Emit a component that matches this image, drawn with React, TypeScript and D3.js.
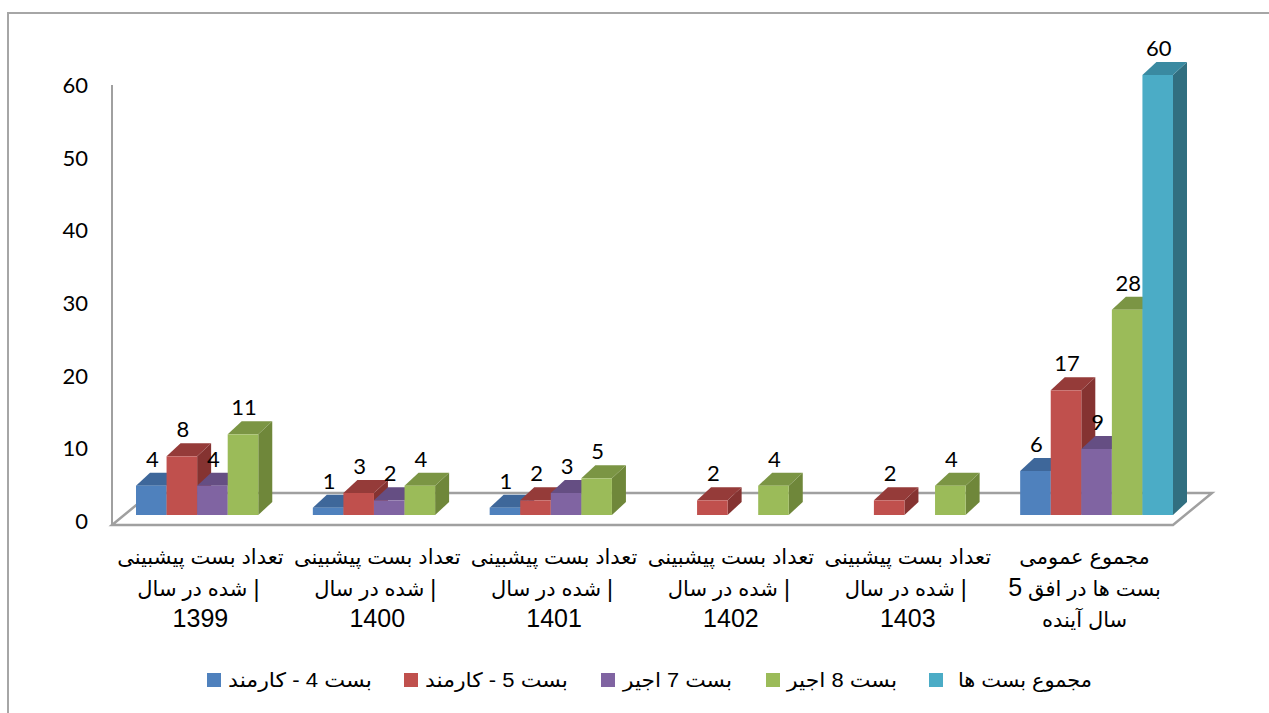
import React from "react"
import * as d3 from "d3"

// categories (one per group) and the label lines under each group
const categories = ["1399", "1400", "1401", "1402", "1403", "total"]
const categoryLines = [
  ["تعداد بست پیشبینی", "شده در سال |", "1399"],
  ["تعداد بست پیشبینی", "شده در سال |", "1400"],
  ["تعداد بست پیشبینی", "شده در سال |", "1401"],
  ["تعداد بست پیشبینی", "شده در سال |", "1402"],
  ["تعداد بست پیشبینی", "شده در سال |", "1403"],
  ["مجموع عمومی", "بست ها در افق 5", "سال آینده"],
]

const seriesNames = ["بست 4 - کارمند", "بست 5 - کارمند", "بست 7 اجیر", "بست 8 اجیر", "مجموع بست ها"]

const band4 = [4, 1, 1, null, null, 6]
const band5 = [8, 3, 2, 2, 2, 17]
const band7 = [4, 2, 3, null, null, 9]
const band8 = [11, 4, 5, 4, 4, 28]
const totalBands = [null, null, null, null, null, 60]

const yTicks = [0, 10, 20, 30, 40, 50, 60]

const seriesValues = [band4, band5, band7, band8, totalBands]

// front / top / side shades per series
const palette = [
  { front: "#4F81BD", top: "#3E679A", side: "#375D8B" },
  { front: "#C0504D", top: "#953B39", side: "#853331" },
  { front: "#8064A2", top: "#654E83", side: "#5B4676" },
  { front: "#9BBB59", top: "#7B9544", side: "#6F873A" },
  { front: "#4BACC6", top: "#3A8AA1", side: "#316F80" },
]

const W = 1269
const H = 713
const floorLeft = 112
const floorRight = 1173
const floorY = 525
const floorDx = 39
const floorDy = -32
const shiftX = 12 // bars sit a little behind the floor front edge
const shiftY = -10
const depthX = 14
const depthY = -13
const numFont = "Lato, 'Open Sans', sans-serif"
const textFont = "'Liberation Sans', Arial, 'DejaVu Sans', sans-serif"

const legendSquareX = [207, 404, 601, 766, 929]
const legendTextX = [228, 425, 623, 787, 958]
const legendTextW = [144, 143, 109, 110, 134]

// digits in the Arial labels look bigger than the arabic glyphs
const splitDigits = (line: string) =>
  line.split(/(\d+)/).filter((p) => p.length > 0).map((p, i) =>
    /^\d+$/.test(p) ? (
      <tspan key={i} fontSize={25}>
        {p}
      </tspan>
    ) : (
      <tspan key={i}>{p}</tspan>
    )
  )

const App = () => {
  const x0 = d3.scaleBand<string>().domain(categories).range([floorLeft, floorRight]).padding(0)
  const x1 = d3
    .scaleBand<string>()
    .domain(seriesNames)
    .range([12, x0.bandwidth() - 12])
    .padding(0)
  const y = d3.scaleLinear().domain([0, 60]).range([floorY, 85])
  const yLabel = d3.scaleLinear().domain([0, 60]).range([529, 93])

  const bars: any[] = []
  const labels: any[] = []
  categories.forEach((cat, ci) => {
    seriesNames.forEach((s, si) => {
      const v = seriesValues[si][ci]
      if (v == null) return
      const bx = (x0(cat) as number) + shiftX + (x1(s) as number)
      const w = x1.bandwidth()
      const base = y(0) + shiftY
      const top = y(v) + shiftY
      const c = palette[si]
      bars.push(
        <g key={cat + s}>
          <polygon
            points={`${bx + w},${top} ${bx + w + depthX},${top + depthY} ${bx + w + depthX},${base + depthY} ${bx + w},${base}`}
            fill={c.side}
          />
          <polygon
            points={`${bx},${top} ${bx + depthX},${top + depthY} ${bx + w + depthX},${top + depthY} ${bx + w},${top}`}
            fill={c.top}
          />
          <rect x={bx} y={top} width={w} height={base - top} fill={c.front} />
        </g>
      )
      labels.push(
        <text
          key={"l" + cat + s}
          x={bx + w / 2 + 1}
          y={top + depthY - 6}
          textAnchor="middle"
          fontFamily={numFont}
          fontSize={22}
          fill="#000"
        >
          {v}
        </text>
      )
    })
  })

  return (
    <svg
      width={W}
      height={H}
      style={{ position: "absolute", left: 0, top: 0, background: "#fff" }}
    >
      <rect x={8} y={13} width={1400} height={900} fill="#fff" stroke="#A6A6A6" strokeWidth={2} />

      {/* floor */}
      <polygon
        points={`${floorLeft},${floorY} ${floorRight},${floorY} ${floorRight + floorDx},${floorY + floorDy} ${floorLeft + floorDx},${floorY + floorDy}`}
        fill="#fff"
        stroke="#A0A0A0"
        strokeWidth={2.5}
        strokeLinejoin="miter"
      />
      {/* value axis */}
      <line x1={floorLeft} x2={floorLeft} y1={y(0)} y2={y(60)} stroke="#A0A0A0" strokeWidth={2} />

      {yTicks.map((t) => (
        <text
          key={t}
          x={88}
          y={yLabel(t)}
          textAnchor="end"
          fontFamily={numFont}
          fontSize={22}
          fill="#000"
        >
          {t}
        </text>
      ))}

      {bars}
      {labels}

      {categories.map((cat, ci) => {
        const cx = (x0(cat) as number) + x0.bandwidth() / 2
        return (
          <g key={"c" + cat}>
            {categoryLines[ci].map((line, li) => {
              const ly = 564 + li * 31.5
              if (line.endsWith(" |")) {
                // keep the bar on the right, as in the original LTR layout
                return (
                  <g key={li}>
                    <text
                      x={cx + 47}
                      y={ly}
                      textAnchor="end"
                      fontFamily={textFont}
                      fontSize={21}
                      fill="#000"
                    >
                      {line.slice(0, -2)}
                    </text>
                    <text
                      x={cx + 56}
                      y={ly + 1}
                      textAnchor="middle"
                      fontFamily={textFont}
                      fontSize={23}
                      fill="#000"
                    >
                      |
                    </text>
                  </g>
                )
              }
              return (
                <text
                  key={li}
                  x={cx}
                  y={ly}
                  textAnchor="middle"
                  fontFamily={textFont}
                  fontSize={21}
                  fill="#000"
                >
                  {splitDigits(line)}
                </text>
              )
            })}
          </g>
        )
      })}

      {seriesNames.map((s, si) => (
        <g key={"lg" + si}>
          <rect x={legendSquareX[si]} y={673} width={14} height={14} fill={palette[si].front} />
          <text
            x={legendTextX[si]}
            y={687}
            fontFamily={textFont}
            fontSize={20}
            textLength={legendTextW[si]}
            lengthAdjust="spacingAndGlyphs"
            fill="#000"
          >
            {s}
          </text>
        </g>
      ))}
    </svg>
  )
}

export default App
